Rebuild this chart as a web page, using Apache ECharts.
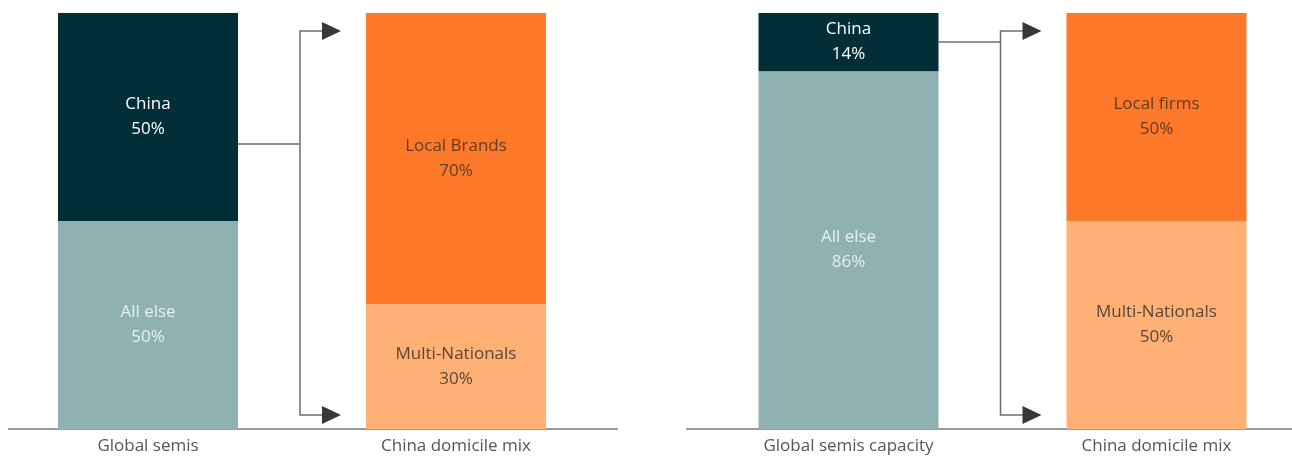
<!DOCTYPE html>
<html>
<head>
<meta charset="utf-8">
<script src="https://cdn.jsdelivr.net/npm/echarts@6/dist/echarts.min.js"></script>
<style>
  html, body { margin: 0; padding: 0; background: #ffffff; }
  #chart { width: 1292px; height: 456px; }
</style>
</head>
<body>
<div id="chart"></div>
<script>
// Left panel: global semis sales and China domicile mix
const leftCategories = ['Global semis', 'China domicile mix'];
const leftTopNames = ['China', 'Local Brands'];
const leftTopValues = [50, 70];
const leftBottomNames = ['All else', 'Multi-Nationals'];
const leftBottomValues = [50, 30];

// Right panel: global semis capacity and China domicile mix
const rightCategories = ['Global semis capacity', 'China domicile mix'];
const rightTopNames = ['China', 'Local firms'];
const rightTopValues = [14, 50];
const rightBottomNames = ['All else', 'Multi-Nationals'];
const rightBottomValues = [86, 50];

// Level (in %) where each bracket leaves the first bar
const leftBracketLevel = 68.5;
const rightBracketLevel = 93;

const FONT = '"Open Sans", "Liberation Sans", sans-serif';
const TOP_COLORS = ['#022f37', '#fe782a'];
const BOTTOM_COLORS = ['#8fb1b1', '#ffb074'];
const TOP_TEXT = ['#ffffff', '#5e3d27'];
const BOTTOM_TEXT = ['#e6eeee', '#5b4636'];
const BAR_W = 180;

function barItems(values, names, colors, textColors) {
  return values.map((v, i) => ({
    value: v,
    itemStyle: { color: colors[i] },
    label: { color: textColors[i] },
    segName: names[i]
  }));
}

function stackSeries(gridIdx, topVals, topNames, botVals, botNames) {
  const labelCfg = {
    show: true,
    position: 'inside',
    fontFamily: FONT,
    fontSize: 17,
    lineHeight: 25,
    formatter: p => p.data.segName + '\n' + p.value + '%'
  };
  return [
    {
      type: 'bar', stack: 's' + gridIdx, xAxisIndex: gridIdx, yAxisIndex: gridIdx,
      barWidth: BAR_W, label: labelCfg, silent: true,
      data: barItems(botVals, botNames, BOTTOM_COLORS, BOTTOM_TEXT)
    },
    {
      type: 'bar', stack: 's' + gridIdx, xAxisIndex: gridIdx, yAxisIndex: gridIdx,
      barWidth: BAR_W, label: labelCfg, silent: true,
      data: barItems(topVals, topNames, TOP_COLORS, TOP_TEXT)
    }
  ];
}

function xAxisFor(gridIdx, cats) {
  return {
    type: 'category', gridIndex: gridIdx, data: cats,
    axisLine: { show: false }, axisTick: { show: false },
    axisLabel: { color: '#555555', fontFamily: FONT, fontSize: 17, margin: 9 }
  };
}
function yAxisFor(gridIdx) {
  return { type: 'value', gridIndex: gridIdx, min: 0, max: 100, show: false };
}

const chart = echarts.init(document.getElementById('chart'), null, { renderer: 'canvas' });

chart.setOption({
  animation: false,
  backgroundColor: '#ffffff',
  grid: [
    { left: -6, width: 616, top: 13, bottom: 27, outerBoundsMode: 'none', containLabel: false },
    { left: 694.5, width: 616, top: 13, bottom: 27, outerBoundsMode: 'none', containLabel: false }
  ],
  xAxis: [xAxisFor(0, leftCategories), xAxisFor(1, rightCategories)],
  yAxis: [yAxisFor(0), yAxisFor(1)],
  series: [
    ...stackSeries(0, leftTopValues, leftTopNames, leftBottomValues, leftBottomNames),
    ...stackSeries(1, rightTopValues, rightTopNames, rightBottomValues, rightBottomNames)
  ]
});

// Baselines and bracket arrows, placed from the axes' own scales
function panelGraphics(gridIdx, level, baseFrom, baseTo) {
  const f = { xAxisIndex: gridIdx, yAxisIndex: gridIdx };
  const base = chart.convertToPixel(f, [0, 0]);
  const top = chart.convertToPixel(f, [0, 100]);
  const first = chart.convertToPixel(f, [0, level]);
  const second = chart.convertToPixel(f, [1, 0]);
  const startX = first[0] + BAR_W / 2;
  const endBarX = second[0] - BAR_W / 2;
  const vx = startX + 62;
  const tipX = endBarX - 25;
  const yTop = top[1] + 18;
  const yBot = base[1] - 14;
  const lineStyle = { stroke: '#6e6e6e', lineWidth: 1.5 };
  const head = (y) => ({
    type: 'polygon', silent: true,
    shape: { points: [[tipX - 19, y - 9], [tipX, y], [tipX - 19, y + 9]] },
    style: { fill: '#3a3633' }
  });
  return [
    { type: 'line', silent: true, shape: { x1: baseFrom, y1: base[1], x2: baseTo, y2: base[1] },
      style: { stroke: '#9a9a9a', lineWidth: 2 } },
    { type: 'polyline', silent: true,
      shape: { points: [[startX, first[1]], [vx, first[1]]] }, style: lineStyle },
    { type: 'polyline', silent: true,
      shape: { points: [[tipX - 18, yTop], [vx, yTop], [vx, yBot], [tipX - 18, yBot]] },
      style: Object.assign({ fill: null }, lineStyle) },
    head(yTop),
    head(yBot)
  ];
}

chart.setOption({
  graphic: [
    ...panelGraphics(0, leftBracketLevel, 8, 618),
    ...panelGraphics(1, rightBracketLevel, 686, 1292)
  ]
});
</script>
</body>
</html>
